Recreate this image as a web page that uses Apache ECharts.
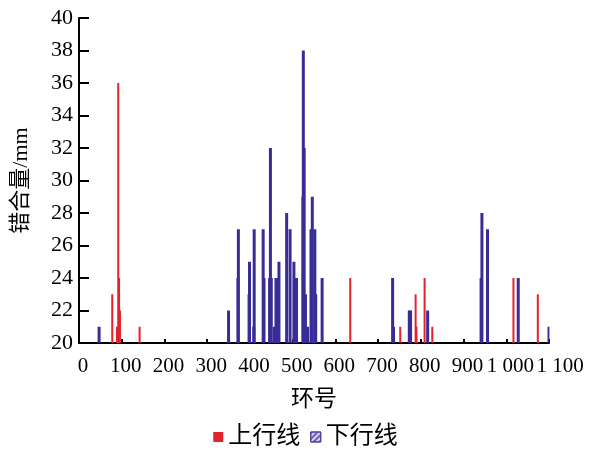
<!DOCTYPE html>
<html>
<head>
<meta charset="utf-8">
<script src="https://cdn.jsdelivr.net/npm/echarts@6/dist/echarts.min.js"></script>
<style>
  html, body { margin: 0; padding: 0; background: #fff; }
  #chart { width: 611px; height: 455px; }
</style>
</head>
<body>
<div id="chart"></div>
<script>
// 上行线 (ring number, value)
const upRings = [79, 90, 93, 95, 97, 143, 636, 753, 789, 791, 810, 828, 1018, 1075]
const upValues = [23, 21, 36, 24, 22, 21, 24, 21, 23, 21, 24, 21, 24, 23]
// 下行线
const downRings = [47, 350, 372, 373, 398, 399, 409, 410, 431, 433, 446, 448, 450, 457, 461, 464, 468,
  486, 494, 503, 509, 524, 525, 527, 530, 535, 543, 546, 552, 554, 569, 734, 736, 773, 776, 816,
  941, 943, 956, 1028, 1100]
const downValues = [21, 22, 24, 27, 23, 25, 21, 27, 27, 24, 24, 32, 24, 21, 24, 24, 25,
  28, 27, 25, 24, 29, 38, 32, 23, 21, 27, 29, 27, 23, 24, 24, 21, 22, 22, 22,
  24, 28, 27, 24, 21]
const xTicks = ['0', '100', '200', '300', '400', '500', '600', '700', '800', '900', '1 000', '1 100']

const FONT = '"Liberation Serif", "Noto Sans CJK SC", serif'
const RED = '#e2232b'
const BLUE = '#3a2c96'

const chart = echarts.init(document.getElementById('chart'))
const pair = (xs, ys) => xs.map((x, i) => [x, ys[i]])

chart.setOption({
  animation: false,
  textStyle: { fontFamily: FONT, color: '#000' },
  grid: { left: 79, right: 62, top: 18, bottom: 112, containLabel: false, outerBoundsMode: 'none' },
  legend: {
    top: 420,
    left: 'center',
    itemGap: 10,
    itemWidth: 10,
    itemHeight: 10,
    icon: 'rect',
    textStyle: { fontFamily: FONT, fontSize: 24, color: '#000' },
    data: [
      { name: '上行线', itemStyle: { color: RED } },
      {
        name: '下行线',
        itemStyle: {
          color: '#d4d2ec',
          borderColor: '#4a3f9e',
          borderWidth: 1,
          decal: { symbol: 'rect', dashArrayX: [1, 0], dashArrayY: [2, 2], rotation: -Math.PI / 4, color: '#6a62b4' }
        }
      }
    ]
  },
  xAxis: {
    type: 'value',
    min: 0,
    max: 1100,
    interval: 100,
    name: '环号',
    nameLocation: 'middle',
    nameGap: 45,
    nameTextStyle: { fontFamily: FONT, fontSize: 23, color: '#000' },
    axisLine: { lineStyle: { color: '#000', width: 2 } },
    axisTick: { inside: true, length: 4, lineStyle: { color: '#000', width: 2 } },
    axisLabel: {
      fontSize: 21, color: '#000', margin: 13,
      showMinLabel: true, showMaxLabel: true, hideOverlap: false,
      padding: [0, 0, 0, 8],
      formatter: (v) => {
        const t = xTicks[Math.round(v / 100)]
        return v === 1100 ? '{last|' + t + '}' : t
      },
      rich: { last: { fontFamily: FONT, fontSize: 21, color: '#000', padding: [0, 0, 0, 14] } }
    },
    splitLine: { show: false }
  },
  yAxis: {
    type: 'value',
    min: 20,
    max: 40,
    interval: 2,
    name: '错合量/mm',
    nameLocation: 'middle',
    nameGap: 47,
    nameTextStyle: { fontFamily: FONT, fontSize: 22, color: '#000' },
    axisLine: { show: true, lineStyle: { color: '#000', width: 2 } },
    axisTick: { show: true, inside: true, length: 10, lineStyle: { color: '#000', width: 2 } },
    axisLabel: { fontSize: 22, color: '#000', margin: 6 },
    splitLine: { show: false }
  },
  series: [
    {
      name: '上行线',
      type: 'bar',
      barWidth: 2,
      barGap: '-100%',
      clip: true,
      itemStyle: { color: RED },
      data: pair(upRings, upValues)
    },
    {
      name: '下行线',
      type: 'bar',
      barWidth: 3,
      barGap: '-100%',
      clip: true,
      itemStyle: { color: BLUE },
      data: pair(downRings, downValues)
    }
  ]
})
</script>
</body>
</html>
